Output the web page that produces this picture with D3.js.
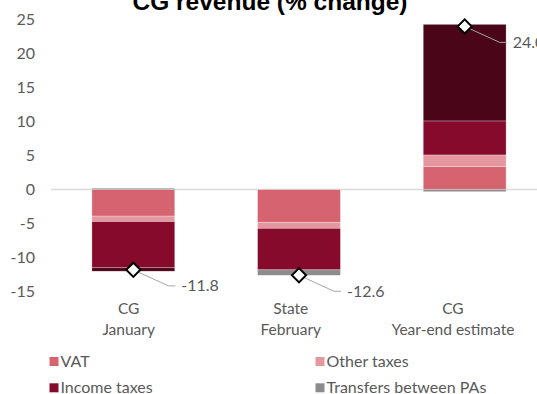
<!DOCTYPE html>
<html>
<head>
<meta charset="utf-8">
<script src="https://cdn.jsdelivr.net/npm/d3@7"></script>
<style>
  html, body { margin: 0; padding: 0; background: #fff; }
  svg { display: block; }
  text { font-family: Lato, "Open Sans", sans-serif; fill: #595959; }
</style>
</head>
<body>
<svg id="chart" width="537" height="394"></svg>
<script>
// Categories (two-line labels) and the stacked components, % change
const categories = ["CG|January", "State|February", "CG|Year-end estimate"];
const seriesNames = ["VAT", "Other taxes", "Income taxes", "Social contributions", "Transfers between PAs"];
const vat        = [-3.9, -4.8, 3.4];
const otherTaxes = [-0.8, -0.9, 1.7];
const incomeTax  = [-6.8, -6.1, 5.0];
const socialCont = [-0.5,  0.0, 14.2];
const transfers  = [ 0.2, -0.8, -0.3];
const totals     = [-11.8, -12.6, 24.0];
const totalLabels = ["-11.8", "-12.6", "24.0"];
const yTicks = [25, 20, 15, 10, 5, 0, -5, -10, -15];
const legendItems = ["VAT", "Other taxes", "Income taxes", "Transfers between PAs"];

const colors = {
  "VAT": "#d66470",
  "Other taxes": "#e4979f",
  "Income taxes": "#850a2c",
  "Social contributions": "#4a0518",
  "Transfers between PAs": "#8c8c8c"
};

const svg = d3.select("#chart");

// Table built from the arrays for d3.stack
const rows = categories.map((c, i) => ({
  cat: c,
  "VAT": vat[i],
  "Other taxes": otherTaxes[i],
  "Income taxes": incomeTax[i],
  "Social contributions": socialCont[i],
  "Transfers between PAs": transfers[i]
}));

const x = d3.scaleBand().domain(categories).range([50.5, 547.5])
  .paddingInner(0.5).paddingOuter(0.25);
const xLabel = d3.scaleBand().domain(categories).range([47.6, 534])
  .paddingInner(0.5).paddingOuter(0.25);
const y = d3.scaleLinear().domain([-15, 25]).range([291.6, 19.6]);

// Title
svg.append("text")
  .attr("x", 270).attr("y", 9.5)
  .attr("text-anchor", "middle")
  .style("font-family", "'Liberation Sans', Arial, sans-serif")
  .style("font-weight", "bold")
  .style("font-size", "24.5px")
  .style("fill", "#000")
  .text("CG revenue (% change)");

// Y axis labels (plain hyphen for negatives)
const yAxis = d3.axisLeft(y).tickValues(yTicks).tickSize(0).tickPadding(0)
  .tickFormat(d => String(d));
svg.append("g")
  .attr("transform", "translate(35,0)")
  .call(yAxis)
  .call(g => g.select(".domain").remove())
  .call(g => g.selectAll("text")
    .style("font-family", "Lato, sans-serif")
    .style("font-size", "16px")
    .style("fill", "#595959"));

// Zero line
svg.append("line")
  .attr("x1", 51).attr("x2", 537)
  .attr("y1", y(0)).attr("y2", y(0))
  .attr("stroke", "#d9d9d9").attr("stroke-width", 1.5);

// Stacked bars
const stack = d3.stack().keys(seriesNames).offset(d3.stackOffsetDiverging);
const layers = stack(rows);
svg.append("g").selectAll("g")
  .data(layers)
  .join("g")
  .attr("fill", d => colors[d.key])
  .selectAll("rect")
  .data(d => d.filter(p => p[1] !== p[0]))
  .join("rect")
  .attr("x", d => x(d.data.cat))
  .attr("width", x.bandwidth())
  .attr("y", d => y(Math.max(d[0], d[1])))
  .attr("height", d => Math.abs(y(d[0]) - y(d[1])))
  .attr("stroke", "#ffffff")
  .attr("stroke-opacity", 0.45)
  .attr("stroke-width", 0.6);

// Total markers with leader lines and value labels
const totalsG = svg.append("g");
categories.forEach((c, i) => {
  const cx = x(c) + x.bandwidth() / 2;
  const cy = y(totals[i]);
  const ex = cx + 35, ey = cy + 16;
  totalsG.append("path")
    .attr("d", `M${cx},${cy}L${ex},${ey}L${ex + 7},${ey}`)
    .attr("fill", "none")
    .attr("stroke", "#a6a6a6")
    .attr("stroke-width", 1);
  totalsG.append("path")
    .attr("d", d3.symbol(d3.symbolSquare, 100)())
    .attr("transform", `translate(${cx},${cy}) rotate(45)`)
    .attr("fill", "#fff")
    .attr("stroke", "#000")
    .attr("stroke-width", 2);
  totalsG.append("text")
    .attr("x", ex + 13).attr("y", ey)
    .attr("dy", "0.35em")
    .style("font-size", "16px")
    .text(totalLabels[i]);
});

// Category labels (two lines each)
const catG = svg.append("g");
categories.forEach(c => {
  const parts = c.split("|");
  const cx = xLabel(c) + xLabel.bandwidth() / 2;
  parts.forEach((p, j) => {
    catG.append("text")
      .attr("x", cx).attr("y", 309 + j * 20.3)
      .attr("dy", "0.35em")
      .attr("text-anchor", "middle")
      .style("font-size", "15.5px")
      .text(p);
  });
});

// Legend (two columns)
const legend = svg.append("g");
legendItems.forEach((name, i) => {
  const col = i % 2, row = Math.floor(i / 2);
  const lx = col === 0 ? 49.5 : 315.5;
  const ly = 361.5 + row * 26.3;
  legend.append("rect")
    .attr("x", lx).attr("y", ly - 4.5)
    .attr("width", 9).attr("height", 9)
    .attr("fill", colors[name]);
  legend.append("text")
    .attr("x", lx + 11).attr("y", ly)
    .attr("dy", "0.35em")
    .style("font-size", "16px")
    .text(name);
});
</script>
</body>
</html>
